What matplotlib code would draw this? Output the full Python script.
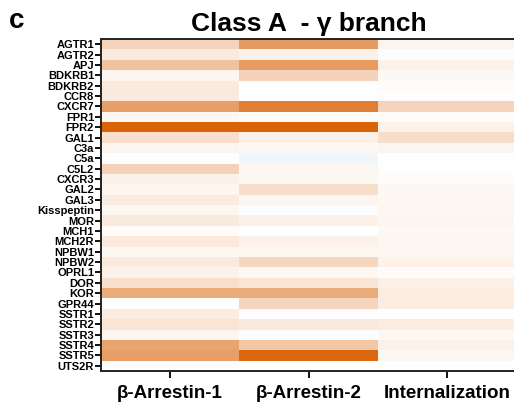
import numpy as np
import matplotlib
matplotlib.use("Agg")
import matplotlib.pyplot as plt
from matplotlib.colors import LinearSegmentedColormap

receptors = ["AGTR1", "AGTR2", "APJ", "BDKRB1", "BDKRB2", "CCR8", "CXCR7", "FPR1",
             "FPR2", "GAL1", "C3a", "C5a", "C5L2", "CXCR3", "GAL2", "GAL3",
             "Kisspeptin", "MOR", "MCH1", "MCH2R", "NPBW1", "NPBW2", "OPRL1", "DOR",
             "KOR", "GPR44", "SSTR1", "SSTR2", "SSTR3", "SSTR4", "SSTR5", "UTS2R"]
assays = ["β-Arrestin-1", "β-Arrestin-2", "Internalization"]

# normalised response per receptor (negative = below baseline)
barr1 = [0.27, 0.13, 0.38, 0.06, 0.13, 0.13, 0.60, 0.04,
         0.97, 0.20, 0.07, 0.00, 0.28, 0.09, 0.06, 0.12,
         0.05, 0.13, 0.03, 0.14, 0.05, 0.13, 0.08, 0.20,
         0.52, 0.00, 0.11, 0.16, 0.06, 0.57, 0.60, 0.00]
barr2 = [0.62, 0.09, 0.62, 0.28, 0.00, 0.00, 0.80, 0.03,
         0.97, 0.09, 0.04, -0.10, 0.05, 0.05, 0.21, 0.06,
         -0.03, 0.09, 0.00, 0.08, 0.05, 0.25, 0.04, 0.16,
         0.52, 0.26, -0.02, 0.13, -0.02, 0.35, 0.95, 0.00]
internalization = [0.07, -0.03, 0.08, 0.04, 0.02, 0.00, 0.27, 0.03,
                   0.08, 0.21, 0.07, 0.00, 0.00, 0.02, 0.04, 0.05,
                   0.05, 0.06, 0.04, 0.05, 0.05, 0.08, 0.03, 0.09,
                   0.11, 0.11, 0.00, 0.11, 0.04, 0.09, 0.05, 0.00]

data = np.column_stack([barr1, barr2, internalization])

plt.rcParams["font.family"] = ["Liberation Sans", "DejaVu Sans"]
plt.rcParams["font.weight"] = "bold"

cmap = LinearSegmentedColormap.from_list("bwo", ["#5aa0e0", "#ffffff", "#d95f02"])

fig = plt.figure(figsize=(5.14, 4.13), dpi=100)
ax = fig.add_axes([101 / 514, 1 - 371 / 413, 415 / 514, (371 - 39) / 413])

x_edges = np.arange(len(assays) + 1)
y_edges = np.arange(len(receptors) + 1)
ax.pcolormesh(x_edges, y_edges, data, cmap=cmap, vmin=-1, vmax=1)
ax.set_xlim(0, len(assays))
ax.set_ylim(len(receptors), 0)

ax.set_yticks(np.arange(len(receptors)) + 0.5)
ax.set_yticklabels(receptors, fontsize=8, fontweight="bold")
ax.set_xticks(np.arange(len(assays)) + 0.5)
ax.set_xticklabels(assays, fontsize=13.5, fontweight="bold")
ax.tick_params(axis="y", length=4, width=1.3, pad=1)
ax.tick_params(axis="x", length=5, width=1.3, pad=5)

for side in ["left", "bottom", "top"]:
    ax.spines[side].set_linewidth(1.4)
    ax.spines[side].set_color("#222222")
ax.spines["right"].set_visible(False)

ax.set_title("Class A  - γ branch", fontsize=19, fontweight="bold", pad=6)
fig.text(9 / 514, 1 - 28 / 413, "c", fontsize=20, fontweight="bold")

fig.savefig("out.png", dpi=100)
